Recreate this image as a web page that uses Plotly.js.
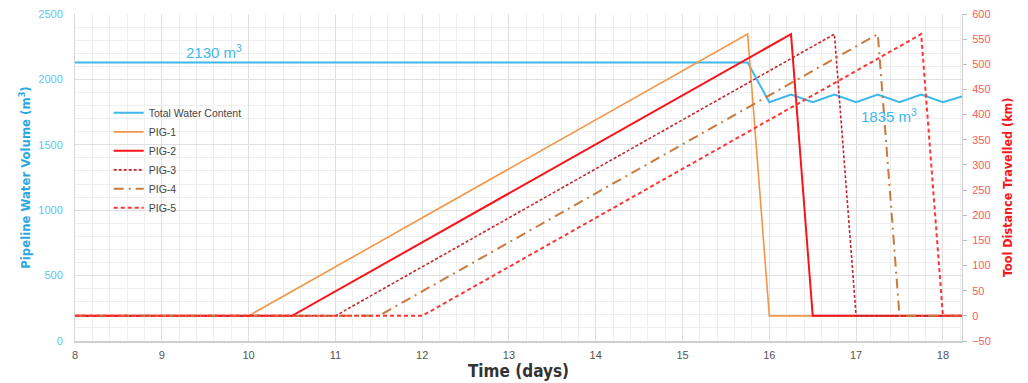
<!DOCTYPE html>
<html>
<head>
<meta charset="utf-8">
<script src="https://cdn.plot.ly/plotly-3.0.1.min.js"></script>
<style>html,body{margin:0;padding:0;background:#fff}#chart{width:1028px;height:383px}</style>
</head>
<body>
<div id="chart"></div>
<script>
// Total water content (left axis, m3)
const waterTime = [8, 15.75, 16, 16.25, 16.5, 16.75, 17, 17.25, 17.5, 17.75, 18, 18.22];
const waterVolume = [2130, 2130, 1825, 1885, 1825, 1885, 1825, 1885, 1825, 1885, 1825, 1870];

// PIG tool distance (right axis, km)
const pig1Time = [8, 10, 15.75, 16, 18.22];
const pig1Dist = [0, 0, 560, 0, 0];
const pig2Time = [8, 10.5, 16.25, 16.5, 18.22];
const pig2Dist = [0, 0, 560, 0, 0];
const pig3Time = [8, 11, 16.75, 17, 18.22];
const pig3Dist = [0, 0, 560, 0, 0];
const pig4Time = [8, 11.5, 17.25, 17.5, 18.22];
const pig4Dist = [0, 0, 560, 0, 0];
const pig5Time = [8, 12, 17.75, 18, 18.22];
const pig5Dist = [0, 0, 560, 0, 0];

const FONT = "Liberation Sans, Arial, sans-serif";
const NARROW = "DejaVu Sans Condensed, Liberation Sans, Arial, sans-serif";

const traces = [
  {x: waterTime, y: waterVolume, name: "Total Water Content", mode: "lines", yaxis: "y",
   line: {color: "#3db8ea", width: 2}},
  {x: pig1Time, y: pig1Dist, name: "PIG-1", mode: "lines", yaxis: "y2",
   line: {color: "#f39548", width: 1.6}},
  {x: pig2Time, y: pig2Dist, name: "PIG-2", mode: "lines", yaxis: "y2",
   line: {color: "#f7141a", width: 2}},
  {x: pig3Time, y: pig3Dist, name: "PIG-3", mode: "lines", yaxis: "y2",
   line: {color: "#c1272d", width: 1.6, dash: "3px,2px"}},
  {x: pig4Time, y: pig4Dist, name: "PIG-4", mode: "lines", yaxis: "y2",
   line: {color: "#c97a3c", width: 2, dash: "10px,5px,2px,5px"}},
  {x: pig5Time, y: pig5Dist, name: "PIG-5", mode: "lines", yaxis: "y2",
   line: {color: "#ff3535", width: 2, dash: "4px,3px"}}
];

const layout = {
  width: 1028, height: 383,
  margin: {l: 75, r: 66, t: 14, b: 42},
  paper_bgcolor: "#fff", plot_bgcolor: "#fff",
  font: {family: FONT, size: 11, color: "#555"},
  showlegend: true,
  legend: {x: 0.038, y: 0.742, xanchor: "left", yanchor: "top",
           bgcolor: "rgba(255,255,255,0)", font: {family: FONT, size: 10.5, color: "#444"},
           tracegroupgap: 0, itemwidth: 30},
  xaxis: {range: [8, 18.22], dtick: 1, tick0: 8, showgrid: true, gridcolor: "#e0e0e0",
          minor: {dtick: 0.2, showgrid: true, gridcolor: "#efefef"},
          showline: true, linecolor: "#cfcfcf", linewidth: 1.5, zeroline: false,
          ticks: "", ticklabelstandoff: 3, tickfont: {family: FONT, size: 11, color: "#555"},
          title: {text: "<b>Time (days)</b>", font: {family: NARROW, size: 17, color: "#333"}, standoff: 4}},
  yaxis: {range: [0, 2500], dtick: 500, showgrid: true, gridcolor: "#e0e0e0",
          minor: {dtick: 100, showgrid: true, gridcolor: "#efefef"},
          showline: true, linecolor: "#d6d6d6", zeroline: false, ticks: "",
          ticklabelstandoff: 9,
          tickfont: {family: FONT, size: 11, color: "#5cc6f3"},
          title: {text: "<b>Pipeline Water Volume (m<sup>3</sup>)</b>", font: {family: NARROW, size: 13, color: "#2aa9e0"}, standoff: 4}},
  yaxis2: {range: [-50, 600], dtick: 50, overlaying: "y", side: "right", showgrid: false,
           showline: true, linecolor: "#cfcfcf", zeroline: false,
           ticks: "outside", ticklen: 4, tickcolor: "#bbbbbb", ticklabelstandoff: 3,
           tickfont: {family: FONT, size: 11, color: "#ff5a5a"}},
  annotations: [
    {x: 9.6, y: 2130, xref: "x", yref: "y", text: "2130 m<sup>3</sup>", showarrow: false,
     yanchor: "bottom", yshift: -1, font: {family: FONT, size: 15, color: "#3db8ea"}},
    {x: 17.38, y: 1835, xref: "x", yref: "y", text: "1835 m<sup>3</sup>", showarrow: false,
     yanchor: "top", yshift: -3, font: {family: FONT, size: 15, color: "#3db8ea"}},
    {x: 1, y: 0.523, xref: "paper", yref: "paper", xanchor: "center", yanchor: "middle",
     xshift: 46, yshift: -18, textangle: -90, showarrow: false,
     text: "<b>Tool Distance Travelled (km)</b>",
     font: {family: NARROW, size: 12.5, color: "#f5191e"}}
  ]
};

Plotly.newPlot("chart", traces, layout, {displayModeBar: false, staticPlot: true});
</script>
</body>
</html>
